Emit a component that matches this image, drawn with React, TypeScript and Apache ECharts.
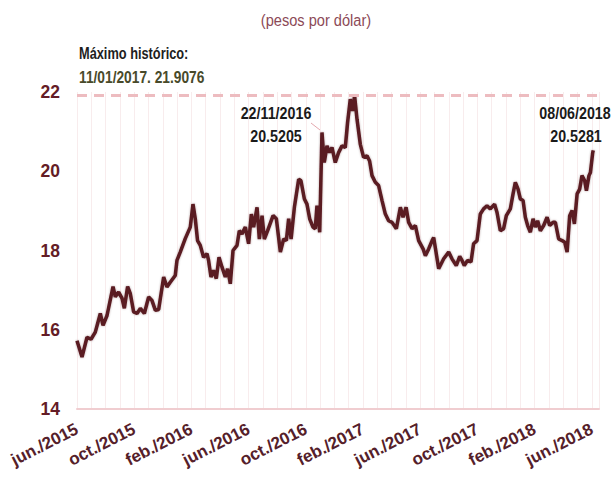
import React, { useEffect, useRef } from "react";
import * as echarts from "echarts";

// x position in months since jun./2015 (0 = jun. 2015, 36 = jun. 2018)
const monthPos = [
  0.0, 0.35, 0.7, 0.98, 1.28, 1.63, 1.82, 2.1, 2.52, 2.68, 2.91, 3.15, 3.31, 3.54, 3.73, 3.96,
  4.2, 4.43, 4.71, 5.01, 5.24, 5.48, 5.71, 6.06, 6.29, 6.52, 6.87, 6.99, 7.22, 7.57, 7.92, 8.11,
  8.27, 8.43, 8.62, 8.85, 9.09, 9.2, 9.37, 9.55, 9.74, 9.93, 10.14, 10.37, 10.53, 10.72, 10.91,
  11.19, 11.35, 11.54, 11.77, 12.0, 12.19, 12.35, 12.59, 12.75, 12.94, 13.1, 13.33, 13.71, 13.94,
  14.22, 14.45, 14.64, 14.8, 14.97, 15.2, 15.5, 15.66, 15.9, 16.08, 16.27, 16.5, 16.66, 16.78,
  16.97, 17.13, 17.29, 17.48, 17.66, 17.83, 18.06, 18.29, 18.53, 18.76, 18.92, 19.11, 19.27,
  19.41, 19.58, 19.81, 20.04, 20.28, 20.46, 20.63, 20.86, 21.09, 21.33, 21.56, 21.79, 22.03,
  22.33, 22.61, 22.8, 23.01, 23.19, 23.43, 23.66, 23.89, 24.2, 24.36, 24.59, 24.83, 24.94, 25.29,
  25.64, 25.99, 26.22, 26.52, 26.76, 26.92, 27.08, 27.31, 27.55, 27.73, 27.97, 28.2, 28.43,
  28.67, 28.9, 29.2, 29.37, 29.6, 29.83, 30.02, 30.3, 30.49, 30.65, 30.84, 31.0, 31.19, 31.35,
  31.51, 31.7, 31.89, 32.05, 32.21, 32.4, 32.63, 32.87, 33.05, 33.29, 33.45, 33.68, 33.92, 34.1,
  34.27, 34.45, 34.62, 34.78, 34.97, 35.15, 35.31, 35.5, 35.62, 35.8, 35.9, 36.06, 36.1,
];

// pesos per dollar
const rate = [
  15.72, 15.31, 15.81, 15.76, 15.94, 16.41, 16.11, 16.36, 17.09, 16.83, 16.95, 16.79, 16.54, 17.09,
  16.91, 16.45, 16.41, 16.54, 16.41, 16.83, 16.74, 16.49, 16.51, 17.33, 17.08, 17.2, 17.37, 17.75,
  17.96, 18.3, 18.59, 19.17, 18.8, 18.25, 18.13, 17.83, 17.92, 17.75, 17.33, 17.5, 17.29, 17.83,
  17.58, 17.33, 17.54, 17.16, 18.0, 18.13, 18.5, 18.42, 18.59, 18.17, 18.92, 18.59, 19.09, 18.29,
  18.88, 18.29, 18.5, 18.88, 18.8, 17.96, 18.29, 18.25, 18.8, 18.29, 19.09, 19.8, 19.76, 19.3,
  19.17, 18.8, 18.59, 18.55, 19.13, 18.46, 20.98, 20.22, 20.64, 20.47, 20.6, 20.22, 20.47, 20.64,
  20.6, 21.23, 21.82, 21.52, 21.9076, 21.31, 20.68, 20.35, 20.39, 20.26, 19.89, 19.72, 19.64,
  19.26, 18.92, 18.75, 18.71, 18.55, 19.09, 18.84, 19.09, 18.71, 18.55, 18.63, 18.25, 18.04,
  17.87, 18.04, 18.25, 18.33, 17.54, 17.79, 17.96, 17.79, 17.62, 17.85, 17.75, 17.62, 17.75,
  17.71, 18.17, 18.25, 18.92, 19.05, 19.13, 19.05, 19.17, 18.96, 18.5, 18.55, 18.88, 19.05,
  19.43, 19.72, 19.55, 19.3, 19.26, 18.84, 18.63, 18.46, 18.8, 18.59, 18.75, 18.5, 18.63, 18.84,
  18.63, 18.71, 18.71, 18.29, 18.25, 18.21, 17.96, 18.88, 19.01, 18.67, 19.43, 19.55, 19.89,
  19.76, 19.51, 19.89, 19.97, 20.47, 20.5281,
];

// one label every 4 months, starting at jun./2015
const tickLabels = [
  "jun./2015", "oct./2015", "feb./2016", "jun./2016", "oct./2016",
  "feb./2017", "jun./2017", "oct./2017", "feb./2018", "jun./2018",
];

const maxValue = 21.9076;
const maxLabel = "11/01/2017. 21.9076";
const note1 = ["22/11/2016", "20.5205"];
const note2 = ["08/06/2018", "20.5281"];

const FONT = "'Liberation Sans', Arial, sans-serif";

function txt(text: string, x: number, y: number, font: string, fill: string, sx: number, align = "center") {
  return {
    type: "text",
    x,
    y,
    z: 100,
    scaleX: sx,
    style: { text, fill, font, align, verticalAlign: "middle" },
  };
}

export default function App() {
  const ref = useRef<HTMLDivElement>(null);
  useEffect(() => {
    if (!ref.current) return;
    const chart = echarts.init(ref.current, null, { renderer: "svg" });
    const data = monthPos.map((m, i) => [m, rate[i]]);
    chart.setOption({
      animation: false,
      backgroundColor: "#ffffff",
      grid: { left: 77, right: 14, top: 92, bottom: 72, containLabel: false },
      xAxis: {
        type: "value",
        min: 0,
        max: 36.5,
        interval: 1,
        axisLine: { show: true, lineStyle: { color: "#f0cdd0", width: 2 } },
        axisTick: { show: false },
        splitLine: { show: true, lineStyle: { color: "#f8eced", width: 1 } },
        axisLabel: {
          rotate: 27,
          margin: 19,
          color: "#55202a",
          fontFamily: FONT,
          fontWeight: "bold",
          fontSize: 17,
          showMaxLabel: false,
          formatter: (v: number) => {
            const r = Math.round(v);
            if (Math.abs(v - r) > 1e-6 || r % 4 !== 0) return "";
            return tickLabels[r / 4] ?? "";
          },
        },
      },
      yAxis: {
        type: "value",
        min: 14,
        max: 22,
        interval: 2,
        axisLine: { show: false },
        axisTick: { show: false },
        splitLine: { show: false },
        axisLabel: {
          margin: 17,
          color: "#641c26",
          fontFamily: FONT,
          fontWeight: "bold",
          fontSize: 17.5,
        },
      },
      series: [
        {
          type: "line",
          data,
          symbol: "none",
          lineStyle: {
            color: "#5a1a20",
            width: 3.5,
            shadowColor: "rgba(60,10,15,0.35)",
            shadowBlur: 2,
          },
          markLine: {
            silent: true,
            symbol: "none",
            label: { show: false },
            lineStyle: { color: "#edbcc0", width: 3, type: [10, 7] },
            data: [{ yAxis: maxValue }],
          },
        },
      ],
      graphic: [
        txt("(pesos por dólar)", 316, 20, `17px ${FONT}`, "#8c4a57", 0.86),
        txt("Máximo histórico:", 79, 53, `bold 16px ${FONT}`, "#1e1e1e", 0.8, "left"),
        txt(maxLabel, 79, 77, `bold 16px ${FONT}`, "#484a2a", 0.86, "left"),
        txt(note1[0], 276, 113, `bold 17px ${FONT}`, "#1a1a1a", 0.84),
        txt(note1[1], 276, 136, `bold 17px ${FONT}`, "#1a1a1a", 0.84),
        {
          type: "line",
          z: 100,
          shape: { x1: 311, y1: 123, x2: 320, y2: 130 },
          style: { stroke: "#e4a8ae", lineWidth: 1 },
        },
        txt(note2[0], 575, 113, `bold 17px ${FONT}`, "#1a1a1a", 0.84),
        txt(note2[1], 576, 136, `bold 17px ${FONT}`, "#1a1a1a", 0.84),
      ],
    });
    return () => chart.dispose();
  }, []);
  return <div ref={ref} style={{ width: 613, height: 481, position: "absolute", left: 0, top: 0 }} />;
}
